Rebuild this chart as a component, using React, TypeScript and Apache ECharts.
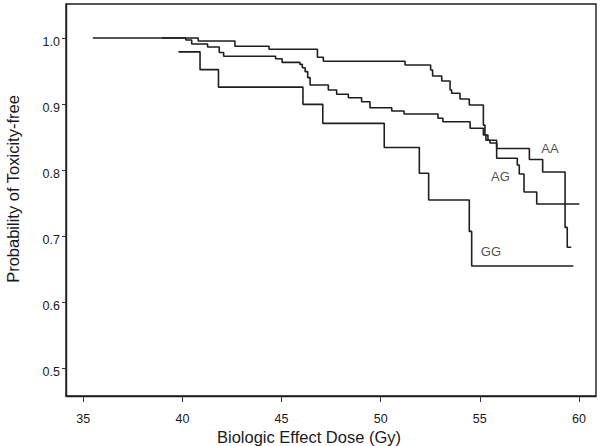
import React, { useEffect, useRef } from "react";
import * as echarts from "echarts";

// Tick labels
const xTicks = [35, 40, 45, 50, 55, 60];
const yTicks = [0.5, 0.6, 0.7, 0.8, 0.9, 1.0];

// Kaplan-Meier curves: dose (Gy) at which survival value starts
const aaDose = [35.48, 40.8, 42.65, 44.37, 46.81, 47.11, 51.23, 52.52, 52.62, 53.08, 53.5, 53.58, 54.0, 54.47, 55.18, 55.26, 55.41, 55.85, 57.5, 58.17, 59.3, 59.41, 59.61];
const aaSurv = [1.0, 0.9955, 0.9874, 0.9829, 0.9708, 0.9647, 0.9591, 0.9515, 0.9424, 0.9348, 0.9212, 0.9162, 0.9076, 0.8985, 0.868, 0.853, 0.845, 0.8326, 0.816, 0.797, 0.713, 0.683, 0.683];

const agDose = [38.97, 40.17, 40.47, 41.27, 41.86, 42.08, 44.7, 45.03, 45.93, 46.05, 46.19, 46.32, 46.44, 47.36, 47.78, 48.37, 49.04, 49.46, 50.56, 51.18, 52.89, 53.14, 54.51, 55.18, 55.31, 55.51, 55.85, 56.89, 56.99, 57.23, 57.87, 60.02];
const agSurv = [1.0, 0.997, 0.9909, 0.9864, 0.978, 0.9723, 0.9685, 0.963, 0.96, 0.955, 0.949, 0.94, 0.9288, 0.9212, 0.9147, 0.9095, 0.9035, 0.8944, 0.8894, 0.8848, 0.8783, 0.8732, 0.8632, 0.853, 0.845, 0.841, 0.8177, 0.8076, 0.794, 0.7667, 0.7485, 0.7485];

const ggDose = [39.8, 40.89, 41.82, 46.08, 47.08, 50.18, 51.95, 52.42, 54.47, 54.59, 59.72];
const ggSurv = [0.979, 0.952, 0.9255, 0.8995, 0.8707, 0.8341, 0.795, 0.7545, 0.707, 0.6545, 0.6545];

// Curve labels
const curveNames = ["AA", "AG", "GG"];
const labelDose = [58.54, 56.04, 55.56];
const labelSurv = [0.8333, 0.7894, 0.6758];

const FONT = "'Liberation Sans', Arial, sans-serif";
const INK = "#1e1e1e";

function pairs(xs: number[], ys: number[]) {
  return xs.map((x, i) => [x, ys[i]]);
}

export default function App() {
  const ref = useRef<HTMLDivElement>(null);
  useEffect(() => {
    if (!ref.current) return;
    const chart = echarts.init(ref.current, null, { renderer: "svg" });
    const lineSeries = (name: string, data: number[][]) => ({
      name,
      type: "line",
      step: "end",
      data,
      showSymbol: false,
      symbol: "none",
      lineStyle: { color: INK, width: 1.6 },
      itemStyle: { color: INK },
      z: 3,
    });
    chart.setOption({
      animation: false,
      backgroundColor: "#ffffff",
      textStyle: { fontFamily: FONT },
      grid: {
        left: 66,
        right: 4,
        top: 4,
        bottom: 50,
        show: true,
        borderColor: INK,
        borderWidth: 1.4,
        backgroundColor: "transparent",
      },
      xAxis: {
        type: "value",
        min: 34.13,
        max: 60.86,
        axisLine: { show: true, lineStyle: { color: INK, width: 1.4 } },
        axisTick: {
          show: true,
          inside: false,
          length: 6,
          customValues: xTicks,
          lineStyle: { color: "#333", width: 1 },
        },
        axisLabel: {
          customValues: xTicks,
          margin: 16,
          fontSize: 12.5,
          color: "#1a1a1a",
          fontFamily: FONT,
        },
        splitLine: { show: false },
      },
      yAxis: {
        type: "value",
        min: 0.4576,
        max: 1.0515,
        axisLine: { show: true, lineStyle: { color: INK, width: 1.4 } },
        axisTick: {
          show: true,
          inside: false,
          length: 4,
          customValues: yTicks,
          lineStyle: { color: "#333", width: 1 },
        },
        axisLabel: {
          customValues: yTicks,
          margin: 6,
          fontSize: 12.5,
          color: "#1a1a1a",
          fontFamily: FONT,
          verticalAlign: "top",
          lineHeight: 8,
          formatter: (v: number) => v.toFixed(1),
        },
        splitLine: { show: false },
      },
      series: [
        lineSeries("AA", pairs(aaDose, aaSurv)),
        lineSeries("AG", pairs(agDose, agSurv)),
        lineSeries("GG", pairs(ggDose, ggSurv)),
        {
          name: "labels",
          type: "scatter",
          data: curveNames.map((n, i) => [labelDose[i], labelSurv[i], n]),
          symbol: "circle",
          symbolSize: 1,
          itemStyle: { color: "transparent" },
          label: {
            show: true,
            position: "inside",
            formatter: (p: any) => p.data[2],
            fontSize: 13,
            color: "#1a1a1a",
            fontFamily: FONT,
          },
          z: 4,
        },
      ],
      graphic: [
        {
          type: "text",
          left: 217,
          top: 428,
          style: {
            text: "Biologic Effect Dose (Gy)",
            fontSize: 16.5,
            fontFamily: FONT,
            fill: "#1a1a1a",
          },
        },
        {
          type: "text",
          x: 13,
          y: 189,
          rotation: Math.PI / 2,
          style: {
            text: "Probability of Toxicity-free",
            fontSize: 16.5,
            fontFamily: FONT,
            fill: "#1a1a1a",
            align: "center",
            verticalAlign: "middle",
          },
        },
      ],
    });
    return () => chart.dispose();
  }, []);
  return (
    <div
      ref={ref}
      style={{ position: "absolute", left: 0, top: 0, width: 600, height: 446, background: "#fff" }}
    />
  );
}
